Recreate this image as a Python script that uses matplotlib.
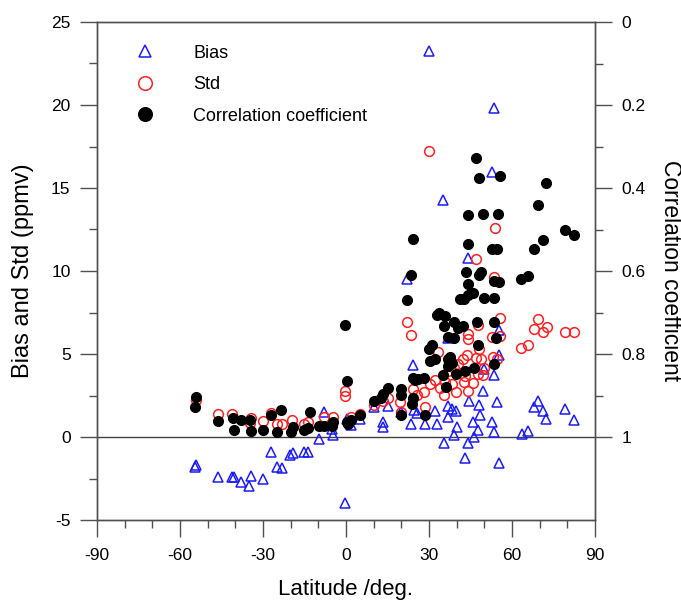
import numpy as np
import matplotlib
matplotlib.use("Agg")
import matplotlib.pyplot as plt
from matplotlib.ticker import MultipleLocator, FixedLocator

plt.rcParams['font.family'] = ['Liberation Sans', 'DejaVu Sans']
plt.rcParams['axes.unicode_minus'] = False

# bias (ppmv) vs latitude
bias_lat = [-54.7, -54.3, -46.4, -41.2, -40.5, -37.8, -35.0, -34.3, -29.9, -27.1,
            -25.1, -23.2, -20.1, -19.1, -15.1, -13.6, -9.9, -7.8, -5.0, -4.7,
            -0.2, 0.2, 1.9, 5.0, 10.0, 13.2, 13.5, 15.2, 19.8, 22.1,
            23.5, 24.1, 24.5, 25.7, 30.1, 28.7, 32.0, 32.8, 35.1, 35.4,
            36.7, 37.0, 38.3, 39.8, 38.9, 40.3, 36.7, 44.2, 43.0, 44.1,
            44.5, 45.8, 46.4, 48.0, 48.6, 47.7, 49.5, 50.0, 52.8, 53.5,
            52.8, 53.5, 53.6, 54.4, 55.2, 55.2, 55.2, 63.5, 65.9, 68.0,
            69.3, 71.2, 72.4, 79.0, 82.5]
bias_val = [-1.83, -1.69, -2.43, -2.38, -2.43, -2.70, -2.98, -2.33, -2.54, -0.88,
            -1.80, -1.85, -1.06, -0.95, -0.90, -0.92, -0.14, 1.48, 0.49, 0.14,
            -3.95, 1.09, 0.74, 1.06, 1.78, 0.88, 0.60, 1.89, 1.52, 9.54,
            0.79, 4.34, 1.62, 1.43, 23.24, 0.79, 1.59, 0.79, 14.28, -0.37,
            1.20, 1.89, 1.66, 1.59, 0.14, 0.62, 5.98, 10.77, -1.29, -0.37,
            2.15, 0.90, 0.02, 1.94, 1.32, 0.44, 2.75, 4.07, 15.99, 19.80,
            0.90, 0.28, 3.72, 2.10, 4.94, 6.45, -1.59, 0.16, 0.39, 1.83,
            2.15, 1.59, 1.06, 1.66, 1.02]

# standard deviation (ppmv) vs latitude
std_lat = [-54.2, -46.4, -41.2, -34.7, -34.3, -29.9, -27.1, -25.1, -23.2, -19.4,
           -15.1, -13.8, -7.8, -4.7, -0.2, -0.2, 1.9, 5.0, 10.0, 13.2,
           15.2, 19.4, 19.8, 22.1, 23.4, 24.1, 25.7, 28.1, 28.7, 30.1,
           30.4, 32.0, 33.2, 33.9, 35.4, 35.9, 37.0, 38.3, 39.0, 39.8,
           40.6, 42.2, 42.6, 43.0, 43.7, 44.2, 44.2, 44.2, 45.8, 46.9,
           46.9, 47.7, 48.0, 47.7, 48.9, 49.5, 50.0, 52.8, 53.1, 53.5,
           54.0, 54.7, 55.5, 55.5, 63.3, 65.9, 68.0, 69.3, 71.2, 72.7,
           79.0, 82.5]
std_val = [2.22, 1.41, 1.36, 0.83, 1.13, 0.97, 1.43, 0.79, 0.81, 1.02,
           0.79, 0.90, 1.18, 1.20, 2.75, 2.47, 1.20, 1.41, 1.94, 2.17,
           2.33, 2.10, 1.48, 6.95, 6.15, 2.87, 2.52, 2.70, 1.78, 17.24,
           3.21, 3.44, 5.11, 2.98, 2.56, 3.33, 3.95, 3.21, 4.14, 2.70,
           4.41, 4.71, 3.33, 3.67, 4.94, 2.75, 6.22, 5.91, 3.26, 10.72,
           4.78, 6.72, 5.29, 3.79, 4.71, 3.72, 4.18, 6.03, 4.83, 9.63,
           12.62, 4.71, 7.19, 6.10, 5.36, 5.57, 6.49, 7.09, 6.33, 6.61,
           6.35, 6.35]

# correlation coefficient vs latitude (right axis)
corr_lat = [-54.7, -54.3, -46.4, -40.8, -40.5, -37.8, -34.8, -34.3, -29.9, -27.1,
            -24.9, -23.4, -19.8, -19.3, -15.1, -13.8, -12.9, -9.9, -7.8, -5.0,
            -4.7, -0.2, 0.2, 0.2, 0.6, 1.9, 5.0, 10.0, 12.7, 13.2,
            15.2, 19.8, 19.8, 19.8, 22.1, 23.5, 24.1, 24.1, 24.9, 23.7,
            24.1, 26.0, 28.1, 28.7, 30.4, 30.1, 31.2, 32.0, 32.8, 33.6,
            35.1, 35.4, 35.9, 36.2, 36.7, 36.7, 36.7, 37.5, 38.3, 39.0,
            39.0, 39.8, 40.6, 41.1, 42.2, 42.5, 43.0, 43.3, 44.2, 44.2,
            44.2, 44.2, 45.8, 46.1, 46.9, 47.2, 47.7, 48.0, 48.1, 48.8,
            49.5, 50.0, 52.8, 53.5, 53.5, 53.6, 53.6, 54.2, 54.4, 55.0,
            55.2, 55.5, 63.3, 65.9, 68.0, 69.3, 71.2, 72.4, 79.0, 82.5]
corr_val = [0.927, 0.904, 0.961, 0.955, 0.982, 0.959, 0.958, 0.986, 0.984, 0.947,
            0.989, 0.934, 0.987, 0.977, 0.982, 0.978, 0.939, 0.973, 0.973, 0.973,
            0.964, 0.730, 0.865, 0.964, 0.968, 0.959, 0.948, 0.913, 0.906, 0.896,
            0.881, 0.885, 0.899, 0.948, 0.671, 0.609, 0.523, 0.858, 0.862, 0.920,
            0.906, 0.860, 0.858, 0.947, 0.816, 0.788, 0.779, 0.813, 0.707, 0.700,
            0.851, 0.733, 0.708, 0.879, 0.812, 0.830, 0.759, 0.807, 0.821, 0.724,
            0.762, 0.848, 0.738, 0.668, 0.733, 0.668, 0.842, 0.602, 0.631, 0.465,
            0.536, 0.659, 0.654, 0.833, 0.328, 0.722, 0.779, 0.375, 0.610, 0.602,
            0.462, 0.666, 0.548, 0.666, 0.625, 0.722, 0.824, 0.761, 0.546, 0.462,
            0.627, 0.370, 0.620, 0.611, 0.548, 0.442, 0.525, 0.388, 0.500, 0.514]

axis_col = '#505050'

fig = plt.figure(figsize=(6.81, 6.02), dpi=100)
ax = fig.add_axes([97 / 681, 1 - 520 / 602, 498 / 681, 498 / 602])

ax.axhline(0, color='#404040', lw=1.0, zorder=1)
h1, = ax.plot(bias_lat, bias_val, '^', ls='none', mfc='none', mec='#1a1aff',
              mew=1.1, ms=6.5, label='Bias', zorder=3)
h2, = ax.plot(std_lat, std_val, 'o', ls='none', mfc='none', mec='#ff2020',
              mew=1.1, ms=7, label='Std', zorder=3)

ax.set_xlim(-90, 90)
ax.set_ylim(-5, 25)
ax.xaxis.set_major_locator(MultipleLocator(30))
ax.xaxis.set_minor_locator(MultipleLocator(10))
ax.yaxis.set_major_locator(MultipleLocator(5))
ax.yaxis.set_minor_locator(MultipleLocator(2.5))
ax.tick_params(which='major', direction='out', length=12, width=1,
               labelsize=12.5, color=axis_col, pad=7)
ax.tick_params(which='minor', direction='out', length=6, width=1, color=axis_col)
ax.tick_params(axis='x', which='major', pad=8)
ax.set_xlabel('Latitude /deg.', fontsize=16, labelpad=12)
ax.set_ylabel('Bias and Std (ppmv)', fontsize=17, labelpad=12)

ax2 = ax.twinx()
h3, = ax2.plot(corr_lat, corr_val, 'o', ls='none', color='black', ms=7,
               label='Correlation coefficient', zorder=4)
ax2.set_ylim(1.2, 0)
ax2.yaxis.set_major_locator(FixedLocator([0, 0.2, 0.4, 0.6, 0.8, 1.0]))
ax2.yaxis.set_minor_locator(FixedLocator([0.1, 0.3, 0.5, 0.7, 0.9]))
ax2.set_yticklabels(['0', '0.2', '0.4', '0.6', '0.8', '1'])
ax2.tick_params(which='major', direction='out', length=12, width=1,
                labelsize=12.5, pad=7, color=axis_col)
ax2.tick_params(which='minor', direction='out', length=6, width=1, color=axis_col)
ax2.set_ylabel('Correlation coefficient', fontsize=16.5, rotation=270,
               va='bottom', labelpad=10)

for a in (ax, ax2):
    for s in a.spines.values():
        s.set_linewidth(1.0)
        s.set_color(axis_col)

ax2.legend(handles=[h1, h2, h3], loc='upper left', bbox_to_anchor=(0.046, 0.969),
           frameon=False, fontsize=13, markerscale=1.4, handletextpad=1.67,
           labelspacing=0.8, borderaxespad=0)

fig.savefig('out.png', dpi=100)
